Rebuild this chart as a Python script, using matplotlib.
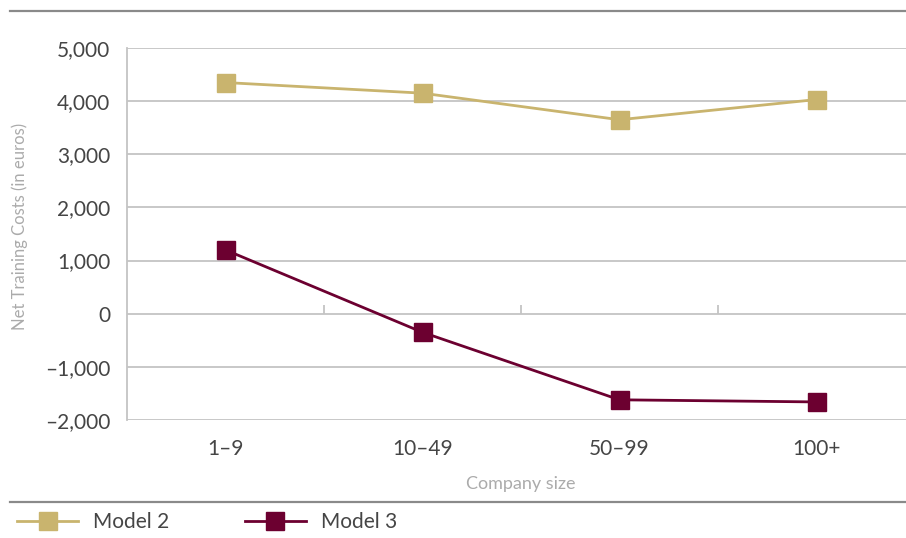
import numpy as np
import matplotlib.pyplot as plt
from matplotlib.lines import Line2D
from matplotlib.ticker import FuncFormatter

# company size classes and net training costs (euros)
sizes = ["1–9", "10–49", "50–99", "100+"]
model2 = [4350, 4150, 3650, 4030]
model3 = [1200, -350, -1620, -1660]
yticks = [-2000, -1000, 0, 1000, 2000, 3000, 4000, 5000]

gold = "#c9b46e"
maroon = "#6c0030"
grid_c = "#c4c4c4"
text_c = "#454545"
light_c = "#ababab"

plt.rcParams["font.family"] = ["Lato", "DejaVu Sans"]

fig = plt.figure(figsize=(9.06, 5.38), dpi=100)
ax = fig.add_axes([127 / 906, 1 - 420 / 538, 788 / 906, 372 / 538])

x = np.arange(len(sizes))
ax.plot(x, model2, color=gold, lw=2, marker="s", ms=12.5, label="Model 2", zorder=3)
ax.plot(x, model3, color=maroon, lw=2, marker="s", ms=12.5, label="Model 3", zorder=3)

ax.set_xlim(-0.5, len(sizes) - 0.5)
ax.set_ylim(yticks[0], yticks[-1])
ax.set_yticks(yticks)
ax.yaxis.set_major_formatter(FuncFormatter(lambda v, p: f"{v:,.0f}".replace("-", "–")))
ax.set_xticks(x)
ax.set_xticklabels(sizes)
ax.tick_params(axis="both", length=0, colors=text_c, labelsize=15)
ax.tick_params(axis="y", pad=12)
ax.tick_params(axis="x", pad=14)

ax.grid(axis="y", color=grid_c, lw=1.3)
ax.set_axisbelow(True)
for s in ["top", "right", "bottom"]:
    ax.spines[s].set_visible(False)
ax.spines["left"].set_color(grid_c)
ax.spines["left"].set_linewidth(1.3)

# category separators on the zero line
bounds = x[:-1] + 0.5
ax.vlines(bounds, 0, 160, color=grid_c, lw=1.3, zorder=1)

ax.set_xlabel("Company size", color=light_c, fontsize=13)
ax.xaxis.set_label_coords(0.5, -0.15)
ax.set_ylabel("Net Training Costs (in euros)", color=light_c, fontsize=12)
ax.yaxis.set_label_coords(-0.126, 0.52)

# rules above and below the chart
fig.add_artist(Line2D([10 / 906, 1], [1 - 11 / 538] * 2, color="#8a8a8a", lw=1.6))
fig.add_artist(Line2D([10 / 906, 1], [1 - 502 / 538] * 2, color="#8a8a8a", lw=1.6))

fig.legend(loc="center left", bbox_to_anchor=(17 / 906, 1 - 522 / 538), ncol=2,
           frameon=False, borderaxespad=0, borderpad=0,
           fontsize=15, labelcolor=text_c, handlelength=2.95, handletextpad=0.72,
           columnspacing=3.6)

fig.savefig("out.png", dpi=100)
